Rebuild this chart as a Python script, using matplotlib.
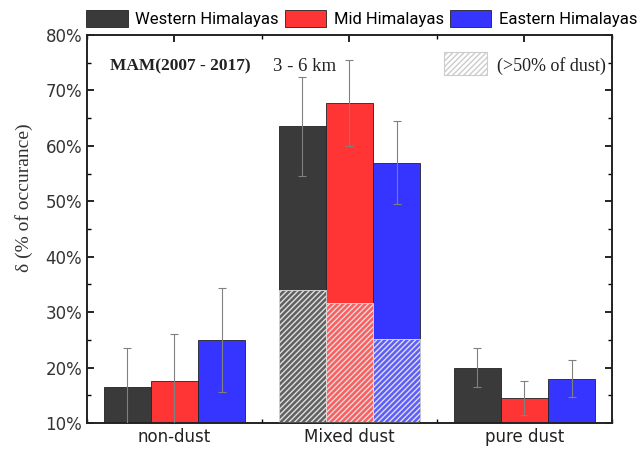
import numpy as np
import matplotlib
matplotlib.use('Agg')
import matplotlib.pyplot as plt
from matplotlib.patches import Patch, Rectangle
from matplotlib.ticker import MultipleLocator, FuncFormatter

# data (percent)
categories = ['non-dust', 'Mixed dust', 'pure dust']
regions = ['Western Himalayas', 'Mid Himalayas', 'Eastern Himalayas']
colors = ['#3a3a3a', '#ff3535', '#3535ff']
values = [[16.5, 63.5, 20.0],   # western
          [17.5, 67.7, 14.5],   # mid
          [25.0, 57.0, 18.0]]   # eastern
errors = [[7.0, 9.0, 3.5],
          [8.6, 7.8, 3.1],
          [9.4, 7.4, 3.3]]
dust_part = [34.0, 31.7, 25.1]  # >50% of dust portion of mixed dust

plt.rcParams['hatch.color'] = '#d8d8d8'
fig = plt.figure(figsize=(6.41, 4.53), dpi=100)
ax = fig.add_axes([0.1357, 0.0662, 0.819, 0.8565])

x = np.arange(1, len(categories) + 1)
w = 0.27
base = 10
for i in range(3):
    xi = x + (i - 1) * w
    h = np.array(values[i]) - base
    ax.bar(xi, h, w, bottom=base, color=colors[i], edgecolor='#222222', linewidth=0.6, zorder=2)
    ax.errorbar(xi, values[i], yerr=errors[i], fmt='none', ecolor='#808080',
                elinewidth=0.8, capsize=3, capthick=0.8, zorder=3)
    # hatched dust part in the mixed dust group
    ax.bar(xi[1], dust_part[i] - base, w, bottom=base, facecolor=colors[i],
           edgecolor='#d8d8d8', hatch='//////', linewidth=0.6, zorder=2.5)
    ax.bar(xi[1], dust_part[i] - base, w, bottom=base, facecolor='white', alpha=0.2,
           edgecolor='none', zorder=2.6)

ax.set_xlim(0.5, 3.5)
ax.set_ylim(10, 80)
ax.set_xticks(x)
ax.set_xticklabels(categories, fontsize=11, color='#222222')
ax.xaxis.set_minor_locator(MultipleLocator(0.5))
ax.yaxis.set_major_locator(MultipleLocator(10))
ax.yaxis.set_minor_locator(MultipleLocator(5))
ax.yaxis.set_major_formatter(FuncFormatter(lambda v, p: '%d%%' % v))
ax.tick_params(which='both', direction='in', top=True, right=True, labelsize=12)
ax.tick_params(which='major', length=5, width=1.2)
ax.tick_params(which='minor', length=3, width=1.0)
for s in ax.spines.values():
    s.set_linewidth(1.4)
    s.set_color('#222222')
for lab in ax.get_yticklabels():
    lab.set_color('#333333')

ax.set_ylabel('δ (% of occurance)', family='Liberation Serif', fontsize=14, color='#333333')
ax.yaxis.set_label_coords(-0.103, 0.58)

ax.text(0.044, 0.92, 'MAM(2007 - 2017)', transform=ax.transAxes, family='Liberation Serif',
        fontweight='bold', fontsize=12.5, color='#222222', va='center')
ax.text(0.354, 0.92, '3 - 6 km', transform=ax.transAxes, family='Liberation Serif',
        fontsize=13.5, color='#222222', va='center')
ax.add_patch(Rectangle((0.68, 0.897), 0.082, 0.059, transform=ax.transAxes, facecolor='white',
                       edgecolor='#cccccc', hatch='//////', linewidth=0.8))
ax.text(0.781, 0.92, '(>50% of dust)', transform=ax.transAxes, family='Liberation Serif',
        fontsize=13, color='#222222', va='center')

handles = [Patch(facecolor=c, edgecolor='#222222', linewidth=0.6) for c in colors]
fig.legend(handles, regions, loc='center left', bbox_to_anchor=(0.134, 0.96), ncol=3, frameon=False,
           prop={'family': 'Roboto', 'size': 12},
           handlelength=2.5, handleheight=1.2, handletextpad=0.45,
           columnspacing=0.35, borderaxespad=0, borderpad=0)

fig.savefig('out.png', dpi=100)
